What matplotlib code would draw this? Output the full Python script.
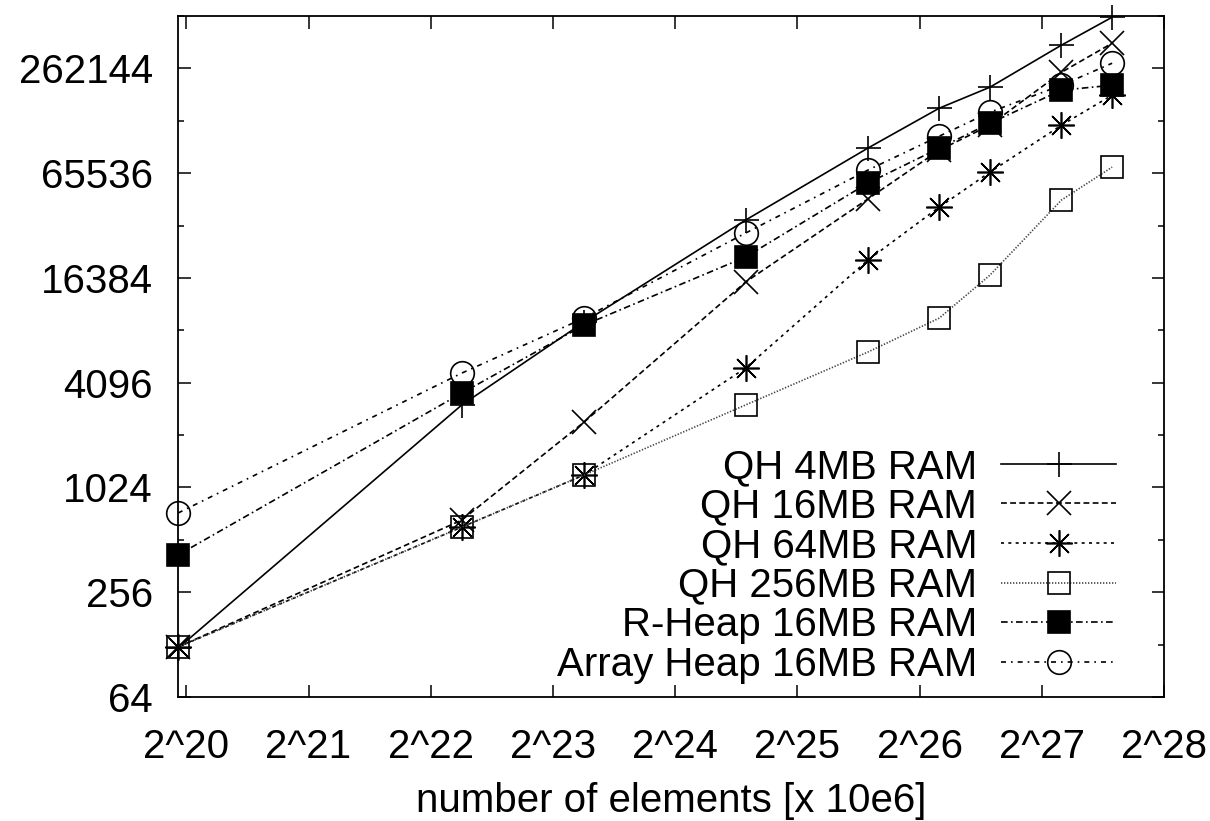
import numpy as np
import matplotlib
matplotlib.use("Agg")
import matplotlib.pyplot as plt
from matplotlib.ticker import FixedLocator, NullFormatter

plt.rcParams['font.family'] = ['Liberation Sans', 'DejaVu Sans']

# number of elements, in millions
x_mill = [1, 5, 10, 25, 50, 75, 100, 150, 200]

# run times
qh_4mb = [122, 3050, 9130, 35200, 91200, 154800, 204400, 356500, 516000]
qh_16mb = [124, 665, 2430, 15500, 46500, 88800, 123600, 249000, 365800]
qh_64mb = [124, 606, 1207, 4970, 20700, 41800, 66400, 123600, 184000]
qh_256mb = [124, 606, 1207, 3050, 6140, 9630, 17000, 45900, 71000]
rheap_16mb = [419, 3570, 8775, 21600, 57400, 91200, 126900, 196500, 209800]
arrheap_16mb = [730, 4650, 9630, 29650, 68200, 106900, 146800, 209800, 280700]

labels = ["QH 4MB RAM", "QH 16MB RAM", "QH 64MB RAM", "QH 256MB RAM",
          "R-Heap 16MB RAM", "Array Heap 16MB RAM"]
xtick_exp = [20, 21, 22, 23, 24, 25, 26, 27, 28]
ytick_vals = [64, 256, 1024, 4096, 16384, 65536, 262144]

x = np.array(x_mill) * 1e6

fig = plt.figure(figsize=(12.1, 8.21), dpi=100)
ax = fig.add_axes([0.1471, 0.1510, 0.8149, 0.8295])

lw = 1.2
# line style, marker, marker size, face colour, line colour
styles = [
    ('-', '+', 18, 'none', 'black'),
    ((0, (3.5, 2)), 'x', 17, 'none', 'black'),
    ((0, (1.8, 2.6)), (8, 2, 0), 19, 'none', 'black'),
    ((0, (0.8, 1.0)), 's', 16, 'none', '#444444'),
    ((0, (4, 2, 1, 2)), 's', 16, 'black', 'black'),
    ((0, (3, 3, 1, 3)), 'o', 17, 'none', 'black'),
]
series = [qh_4mb, qh_16mb, qh_64mb, qh_256mb, rheap_16mb, arrheap_16mb]

for y, lab, (ls, mk, ms, fc, lc) in zip(series, labels, styles):
    ax.plot(x, y, linestyle=ls, color=lc, lw=lw, marker=mk, markersize=ms,
            markerfacecolor=fc, markeredgecolor='black', markeredgewidth=1.2,
            label=lab, clip_on=False)

ax.set_xscale('log', base=2)
ax.set_yscale('log', base=2)
ax.set_xlim(1e6, 2**28)
ax.set_ylim(64, 2**19)

ax.xaxis.set_major_locator(FixedLocator([2**e for e in xtick_exp]))
ax.set_xticklabels(["2^%d" % e for e in xtick_exp])
ax.xaxis.set_minor_locator(FixedLocator([]))
ax.xaxis.set_minor_formatter(NullFormatter())

ax.yaxis.set_major_locator(FixedLocator(ytick_vals))
ax.set_yticklabels([str(v) for v in ytick_vals])
ax.yaxis.set_minor_locator(FixedLocator([v * 2 for v in ytick_vals]))
ax.yaxis.set_minor_formatter(NullFormatter())

ax.tick_params(which='both', direction='in', top=True, right=True, width=1.1)
ax.tick_params(which='major', length=9, labelsize=29)
ax.tick_params(which='minor', length=4)
ax.tick_params(axis='x', which='major', pad=22)
ax.tick_params(axis='y', which='major', pad=18)

for sp in ax.spines.values():
    sp.set_linewidth(1.3)

ax.set_xlabel("number of elements [x 10e6]", fontsize=29, labelpad=12)

leg = ax.legend(loc='lower right', bbox_to_anchor=(1116 / 1210, (821 - 684) / 821),
                bbox_transform=fig.transFigure, frameon=False, markerfirst=False,
                fontsize=29, labelspacing=0.04, handlelength=2.85, handletextpad=0.6,
                borderpad=0, borderaxespad=0)
for t in leg.get_texts():
    t.set_ha('right')

fig.savefig("out.png", dpi=100)
